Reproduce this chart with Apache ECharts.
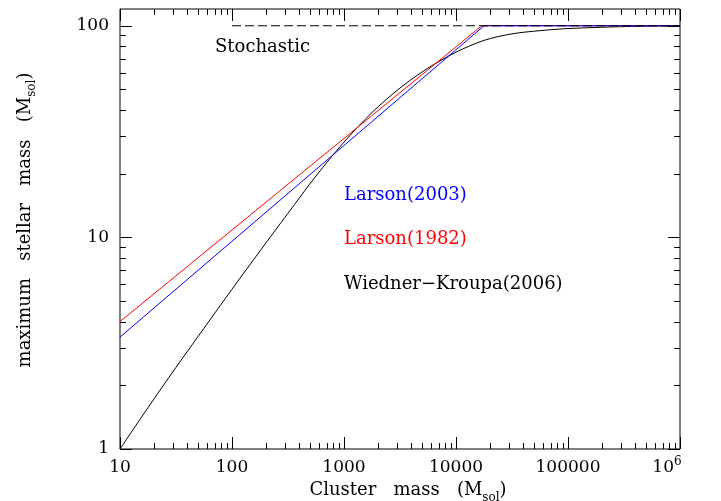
<!DOCTYPE html>
<html><head><meta charset="utf-8">
<script src="https://cdn.jsdelivr.net/npm/echarts@6/dist/echarts.min.js"></script>
<style>html,body{margin:0;padding:0;background:#fff}#c{width:721px;height:501px}</style>
</head><body><div id="c"></div>
<script>
// Tick values and labels
const xTickValues = [10, 100, 1000, 10000, 100000, 1000000];
const xTickLabels = ['10', '100', '1000', '10000', '100000', '10^6'];
const yTickValues = [1, 10, 100];
const yTickLabels = ['1', '10', '100'];
const minorMultipliers = [2, 3, 4, 5, 6, 7, 8, 9];

// Series: cluster mass (Msol) vs maximum stellar mass (Msol)
const wkMass = [10, 17.8, 31.6, 56.2, 100, 178, 316, 562, 1000, 1778, 3162, 5623, 10000, 17783, 31623, 56234, 100000, 316228, 1000000];
const wkMmax = [1.0, 1.57, 2.43, 3.72, 5.69, 8.63, 13.0, 19.5, 28.2, 38.9, 50.8, 63.1, 75.0, 85.3, 91.6, 94.8, 97.0, 99.1, 100];
const larson1982Mass = [10, 17000, 1000000];
const larson1982Mmax = [4.0, 100, 100];
const larson2003Mass = [10, 17800, 1000000];
const larson2003Mmax = [3.38, 100, 100];
const stochMass = [100, 1000000];
const stochMmax = [100, 100];

const FONT = '"DejaVu Serif", serif';
const X_MIN = 10, X_MAX = 1000000, Y_MIN = 1, Y_MAX = 120;

function pairs(xs, ys) { return xs.map((x, i) => [x, ys[i]]); }

// tick items: [xValue, yValue, kind(0=x,1=y), major]
const tickData = [];
xTickValues.forEach((v, i) => {
  tickData.push([v, Y_MIN, 0, 1]);
  if (i < xTickValues.length - 1) minorMultipliers.forEach(m => tickData.push([v * m, Y_MIN, 0, 0]));
});
yTickValues.forEach(v => {
  tickData.push([X_MIN, v, 1, 1]);
  minorMultipliers.forEach(m => { if (v * m <= Y_MAX) tickData.push([X_MIN, v * m, 1, 0]); });
});

function matchIdx(vals, value) {
  return vals.findIndex(v => Math.abs(Math.log10(v) - Math.log10(value)) < 1e-6);
}
function richLabel(s) {
  const parts = s.split('^');
  return parts.length > 1 ? '{a|' + parts[0] + '}{sup|' + parts[1] + '}{gap|}' : '{a|' + s + '}';
}

const chart = echarts.init(document.getElementById('c'), null, {renderer: 'canvas'});
chart.setOption({
  animation: false,
  backgroundColor: '#fff',
  grid: {left: 120, right: 41, top: 9, bottom: 52, show: true, borderColor: '#000', borderWidth: 1,
         backgroundColor: 'transparent', containLabel: false, outerBoundsMode: 'none'},
  xAxis: {
    type: 'log', logBase: 10, min: X_MIN, max: X_MAX,
    axisLine: {show: false}, axisTick: {show: false}, splitLine: {show: false}, minorTick: {show: false},
    axisLabel: {
      margin: 7, showMinLabel: true, showMaxLabel: true,
      formatter: v => { const i = matchIdx(xTickValues, v); return i < 0 ? '' : richLabel(xTickLabels[i]); },
      rich: {
        a: {fontFamily: FONT, fontSize: 17, color: '#000', lineHeight: 24},
        sup: {fontFamily: FONT, fontSize: 12, color: '#000', lineHeight: 12, verticalAlign: 'top'},
        gap: {width: 26}
      }
    },
    name: '{a|Cluster   mass   (M}{s|sol}{a|)}', nameLocation: 'middle', nameGap: 28,
    nameTextStyle: {
      padding: [0, 0, 0, 16],
      rich: {
        a: {fontFamily: FONT, fontSize: 18, color: '#000', lineHeight: 26},
        s: {fontFamily: FONT, fontSize: 12, color: '#000', lineHeight: 12, verticalAlign: 'bottom'}
      }
    }
  },
  yAxis: {
    type: 'log', logBase: 10, min: Y_MIN, max: Y_MAX,
    axisLine: {show: false}, axisTick: {show: false}, splitLine: {show: false}, minorTick: {show: false},
    axisLabel: {
      margin: 11, showMaxLabel: false,
      formatter: v => { const i = matchIdx(yTickValues, v); return i < 0 ? '' : '{a|' + yTickLabels[i] + '}'; },
      rich: {a: {fontFamily: FONT, fontSize: 17, color: '#000'}}
    },
    name: '{a|maximum   stellar   mass   (M}{s|sol}{a|)}', nameLocation: 'middle', nameGap: 82,
    nameTextStyle: {
      padding: [0, 0, 0, 18],
      rich: {
        a: {fontFamily: FONT, fontSize: 18, color: '#000', lineHeight: 26},
        s: {fontFamily: FONT, fontSize: 12, color: '#000', lineHeight: 12, verticalAlign: 'bottom'}
      }
    }
  },
  graphic: [
    {type: 'text', x: 215, y: 47, style: {text: 'Stochastic', fill: '#000', font: '18px ' + FONT, verticalAlign: 'middle'}},
    {type: 'text', x: 344, y: 195, style: {text: 'Larson(2003)', fill: '#0000ff', font: '18px ' + FONT, verticalAlign: 'middle'}},
    {type: 'text', x: 344, y: 239, style: {text: 'Larson(1982)', fill: '#ff0000', font: '18px ' + FONT, verticalAlign: 'middle'}},
    {type: 'text', x: 344, y: 284, style: {text: 'Wiedner\u2212Kroupa(2006)', fill: '#000', font: '18px ' + FONT, verticalAlign: 'middle'}}
  ],
  series: [
    {type: 'line', name: 'Wiedner-Kroupa(2006)', data: pairs(wkMass, wkMmax), showSymbol: false, symbol: 'none',
     smooth: 0.3, lineStyle: {color: '#000', width: 1}, z: 2},
    {type: 'line', name: 'Larson(1982)', data: pairs(larson1982Mass, larson1982Mmax), showSymbol: false, symbol: 'none',
     lineStyle: {color: '#ff0000', width: 1}, z: 3},
    {type: 'line', name: 'Larson(2003)', data: pairs(larson2003Mass, larson2003Mmax), showSymbol: false, symbol: 'none',
     lineStyle: {color: '#0000ff', width: 1}, z: 4},
    {type: 'line', name: 'Stochastic', data: pairs(stochMass, stochMmax), showSymbol: false, symbol: 'none',
     lineStyle: {color: '#000', width: 1, type: [9, 4]}, z: 5},
    {type: 'custom', name: 'ticks', data: tickData, silent: true, clip: false, z: 6,
     encode: {x: 0, y: 1},
     renderItem: (params, api) => {
       const cs = params.coordSys;
       const kind = api.value(2), major = api.value(3);
       const len = major ? 12 : 6;
       const p = api.coord([api.value(0), api.value(1)]);
       const L = cs.x, R = cs.x + cs.width, T = cs.y, B = cs.y + cs.height;
       const st = {stroke: '#000', lineWidth: 1};
       if (kind === 0) {
         const x = Math.round(p[0]) + 0.5;
         return {type: 'group', children: [
           {type: 'line', shape: {x1: x, y1: B, x2: x, y2: B - len}, style: st},
           {type: 'line', shape: {x1: x, y1: T, x2: x, y2: T + len}, style: st}
         ]};
       }
       const y = Math.round(p[1]) + 0.5;
       return {type: 'group', children: [
         {type: 'line', shape: {x1: L, y1: y, x2: L + len, y2: y}, style: st},
         {type: 'line', shape: {x1: R, y1: y, x2: R - len, y2: y}, style: st}
       ]};
     }}
  ]
});
</script></body></html>
